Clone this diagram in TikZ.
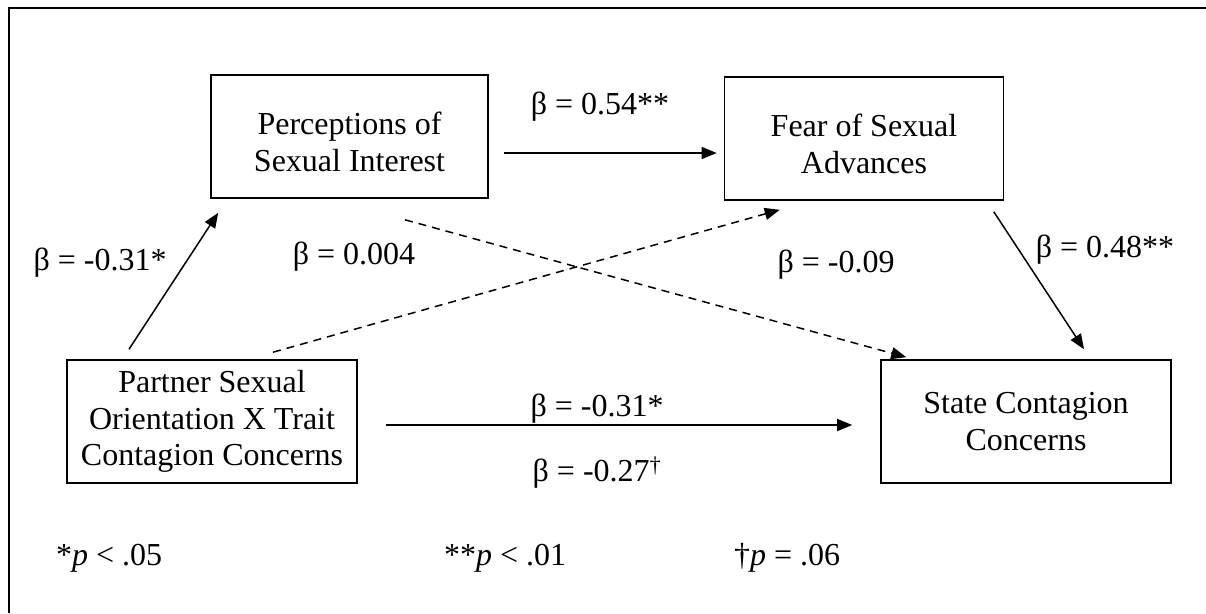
\documentclass[tikz,border=0pt]{standalone}
\usepackage{fontspec}
\setmainfont{Liberation Serif}
\usepackage{tikz}
\usetikzlibrary{positioning,arrows.meta,calc}

\begin{document}
\begin{tikzpicture}[
    x=1pt, y=-1pt,
    >={Triangle[length=15pt,width=12pt]},
    var/.style={draw, line width=1.6pt, align=center, inner sep=0pt,
                font=\fontsize{32}{36.7}\selectfont,
                minimum width=290pt, minimum height=123pt},
    coef/.style={font=\fontsize{32}{36.7}\selectfont, inner sep=0pt},
    path/.style={->, line width=1.5pt},
    weak/.style={->, line width=1.5pt, dash pattern=on 8pt off 6pt},
  ]
    \useasboundingbox (0,0) rectangle (1206,613);
    \draw[line width=2.5pt] (9,613) -- (9,8) -- (1206,8);

    \node[var, minimum width=277pt] (per)  at (349.5,136.5) {\rule{0pt}{34pt}Perceptions of\\Sexual Interest};
    \node[var, minimum width=279pt] (fear) at (864,138.5)   {\rule{0pt}{34pt}Fear of Sexual\\Advances};
    \node[var] (part) at (212,421.5)  {Partner Sexual\\Orientation X Trait\\Contagion Concerns};
    \node[var] (sta)  at (1026,421.5) {State Contagion\\Concerns};

    \draw[path] ($(per.east)+(15,16.5)$) -- ($(fear.west)+(-7,14.5)$);
    \draw[path] ($(part.north)+(-83,-10)$) -- ($(per.south west)+(8,14)$);
    \draw[weak] ($(part.north)+(61,-7)$) -- ($(fear.south west)+(56,9)$);
    \draw[weak] ($(per.south)+(55.5,21)$) -- ($(sta.north west)+(26,-2)$);
    \draw[path] ($(fear.south east)+(-10.5,11)$) -- ($(sta.north)+(58,-10)$);
    \draw[path] ($(part.east)+(28,3.5)$) -- ($(sta.west)+(-28,3.5)$);

    \node[coef] (b1) at (600,107)  {β = 0.54**};
    \node[coef] (b2) at (100,263)  {β = -0.31*};
    \node[coef] (b3) at (354,257)  {β = 0.004};
    \node[coef] (b4) at (836,265)  {β = -0.09};
    \node[coef] (b5) at (1105,250) {β = 0.48**};
    \node[coef] (b6) at (597,409)  {β = -0.31*};
    \node[coef] (b7) at (597,473)  {β = -0.27\textsuperscript{†}};

    % significance levels
    \node[coef, anchor=west] (s1) at (56,558)  {*\textit{p} < .05};
    \node[coef, anchor=west] (s2) at (444,558) {**\textit{p} < .01};
    \node[coef, anchor=west] (s3) at (734,558) {†\textit{p} = .06};
\end{tikzpicture}
\end{document}
